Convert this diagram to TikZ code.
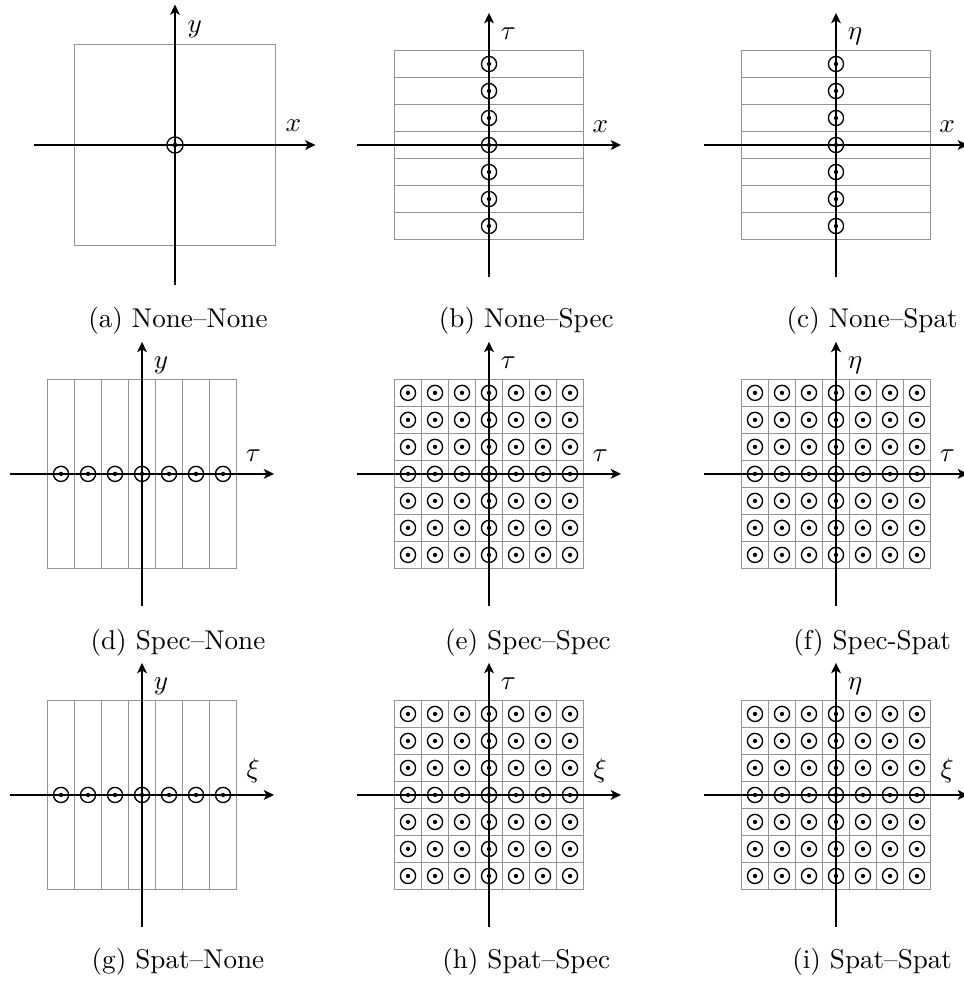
\documentclass[tikz,border=0pt]{standalone}
\usepackage{amsmath,amssymb}
\usepackage{tikz}
\usetikzlibrary{arrows.meta}

\begin{document}
\begin{tikzpicture}[x=0.35cm,y=0.35cm,
  axisline/.style={line width=1pt,-{Stealth[length=3.8pt,width=3.6pt,inset=1pt]}},
  cell/.style={draw=black!42,line width=0.5pt},
  ring/.style={line width=0.5pt},
  pip/.style={fill=black},
  hlab/.style={anchor=south,inner sep=0pt},
  vlab/.style={anchor=base west,inner sep=0pt},
  subcap/.style={anchor=base,inner sep=0pt}]
  \useasboundingbox (0,0) rectangle (35.70,36.33); % 画像全体の大きさ

  % (a) 格子なし（少し大きめ）
  \begin{scope}[shift={(6.48,30.96)},scale=1.064]
    \draw[cell] (-3.5,-3.5) rectangle (3.5,3.5); % 外枠
    \draw[ring] (0,0) circle (0.28); % 原点の標本点
    \fill[pip] (0,0) circle (0.08); % 標本点の中心
    \draw[axisline] (-4.89,0) -- (4.89,0); % 横軸
    \draw[axisline] (0,-4.89) -- (0,4.89); % 縦軸
    \node[hlab] (hlab-a) at (4.12,0.44) {$x$}; % 横軸の名前
    \node[vlab] (vlab-a) at (0.42,3.9) {$y$}; % 縦軸の名前
  \end{scope}

  % (b)-(i) 1: 横の帯, 2: 縦の帯, 3: 全面格子
  \foreach \px/\py/\kind/\vtext/\htext/\tag in {
      18.11/30.96/1/\tau/x/b, 30.96/30.96/1/\eta/x/c,
      5.26/18.78/2/y/\tau/d, 18.11/18.78/3/\tau/\tau/e, 30.96/18.78/3/\eta/\tau/f,
      5.26/6.89/2/y/\xi/g, 18.11/6.89/3/\tau/\xi/h, 30.96/6.89/3/\eta/\xi/i}{
    \begin{scope}[shift={(\px,\py)}]
      \draw[cell] (-3.5,-3.5) rectangle (3.5,3.5); % 外枠
      \ifnum\kind=1
        \foreach \k in {-2.5,...,2.5} \draw[cell] (-3.5,\k) -- (3.5,\k); % 横の区切り
        \foreach \j in {-3,...,3} {\draw[ring] (0,\j) circle (0.28); \fill[pip] (0,\j) circle (0.08);} % 縦軸上の標本点
      \fi
      \ifnum\kind=2
        \foreach \k in {-2.5,...,2.5} \draw[cell] (\k,-3.5) -- (\k,3.5); % 縦の区切り
        \foreach \i in {-3,...,3} {\draw[ring] (\i,0) circle (0.28); \fill[pip] (\i,0) circle (0.08);} % 横軸上の標本点
      \fi
      \ifnum\kind=3
        \foreach \k in {-2.5,...,2.5} {\draw[cell] (-3.5,\k) -- (3.5,\k); \draw[cell] (\k,-3.5) -- (\k,3.5);} % 格子
        \foreach \i in {-3,...,3} \foreach \j in {-3,...,3} {\draw[ring] (\i,\j) circle (0.28); \fill[pip] (\i,\j) circle (0.08);} % 全標本点
      \fi
      \draw[axisline] (-4.89,0) -- (4.89,0); % 横軸
      \draw[axisline] (0,-4.89) -- (0,4.89); % 縦軸
      \node[hlab] (hlab-\tag) at (4.12,0.44) {$\htext$}; % 横軸の名前
      \node[vlab] (vlab-\tag) at (0.42,3.9) {$\vtext$}; % 縦軸の名前
    \end{scope}
  }

  % 各図の見出し
  \node[subcap] (cap-a) at (6.59,24.22) {(a) None--None};
  \node[subcap] (cap-b) at (19.49,24.22) {(b) None--Spec};
  \node[subcap] (cap-c) at (32.30,24.22) {(c) None--Spat};
  \node[subcap] (cap-d) at (6.59,12.26) {(d) Spec--None};
  \node[subcap] (cap-e) at (19.55,12.26) {(e) Spec--Spec};
  \node[subcap] (cap-f) at (32.30,12.26) {(f) Spec-Spat};
  \node[subcap] (cap-g) at (6.59,0.48) {(g) Spat--None};
  \node[subcap] (cap-h) at (19.49,0.48) {(h) Spat--Spec};
  \node[subcap] (cap-i) at (32.30,0.48) {(i) Spat--Spat};
\end{tikzpicture}
\end{document}
